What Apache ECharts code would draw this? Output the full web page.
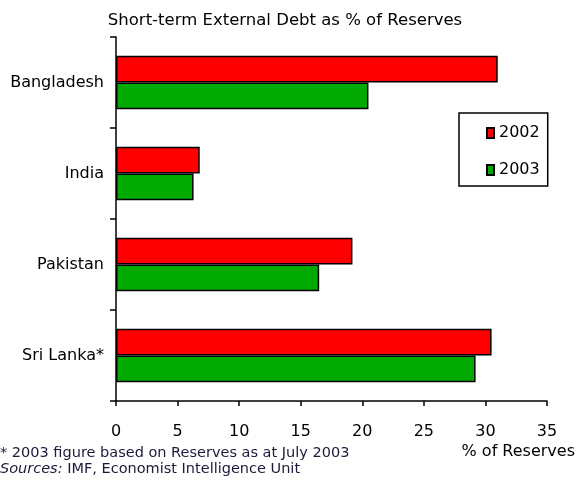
<!DOCTYPE html>
<html>
<head>
<meta charset="utf-8">
<script src="https://cdn.jsdelivr.net/npm/echarts@6/dist/echarts.min.js"></script>
<style>
  html, body { margin: 0; padding: 0; background: #fff; }
  #chart { width: 578px; height: 484px; }
</style>
</head>
<body>
<div id="chart"></div>
<script>
// Short-term external debt relative to reserves, South Asia
var countries = ['Bangladesh', 'India', 'Pakistan', 'Sri Lanka*'];
var debt2002 = [31.0, 6.8, 19.2, 30.5];
var debt2003 = [20.5, 6.3, 16.5, 29.2];
var seriesNames = ['2002', '2003'];
var xTicks = [0, 35, 5];

var FONT = 'DejaVu Sans, Verdana, sans-serif';
var chart = echarts.init(document.getElementById('chart'), null, { renderer: 'canvas' });

var barStyle = function (color) {
  return { color: color, borderColor: '#000', borderWidth: 1.5 };
};

chart.setOption({
  animation: false,
  backgroundColor: '#fff',
  title: {
    text: 'Short-term External Debt as % of Reserves',
    left: 280,
    top: 7,
    textAlign: 'center',
    textStyle: { fontFamily: FONT, fontSize: 16.5, fontWeight: 'normal', color: '#000' }
  },
  grid: { left: 116, right: 30, top: 37, height: 364, containLabel: false },
  legend: {
    orient: 'vertical',
    left: 459,
    top: 113,
    width: 88,
    padding: [11, 8, 7, 27],
    itemGap: 19,
    itemWidth: 7,
    itemHeight: 10,
    icon: 'rect',
    borderColor: '#000',
    borderWidth: 1.5,
    textStyle: { fontFamily: FONT, fontSize: 16, color: '#000', lineHeight: 18 },
    data: seriesNames
  },
  xAxis: {
    type: 'value',
    min: xTicks[0],
    max: xTicks[1],
    interval: xTicks[2],
    splitLine: { show: false },
    axisLine: { show: true, lineStyle: { color: '#000', width: 1.5 } },
    axisTick: { show: true, length: 5, lineStyle: { color: '#000', width: 1.5 } },
    axisLabel: { fontFamily: FONT, fontSize: 16, color: '#000', margin: 23 },
    name: '% of Reserves',
    nameLocation: 'end',
    nameGap: 28,
    nameTextStyle: {
      fontFamily: FONT, fontSize: 16, color: '#000',
      align: 'right', verticalAlign: 'top', padding: [43, 0, 0, 0]
    }
  },
  yAxis: {
    type: 'category',
    inverse: true,
    data: countries,
    axisLine: { show: true, lineStyle: { color: '#000', width: 1.5 } },
    axisTick: { show: true, length: 6, lineStyle: { color: '#000', width: 1.5 } },
    axisLabel: { fontFamily: FONT, fontSize: 16, color: '#000', margin: 12 }
  },
  series: [
    {
      name: seriesNames[0],
      type: 'bar',
      data: debt2002,
      barCategoryGap: '41%',
      barGap: '0%',
      itemStyle: barStyle('#ff0000')
    },
    {
      name: seriesNames[1],
      type: 'bar',
      data: debt2003,
      barCategoryGap: '41%',
      barGap: '0%',
      itemStyle: barStyle('#00aa00')
    }
  ],
  graphic: [
    {
      type: 'text',
      left: 0,
      top: 446,
      style: {
        text: '* 2003 figure based on Reserves as at July 2003',
        font: '14.5px ' + FONT,
        fill: '#1a1a3a'
      }
    },
    {
      type: 'text',
      left: 0,
      top: 462,
      style: {
        text: '{i|Sources:} IMF, Economist Intelligence Unit',
        font: '14.5px ' + FONT,
        fill: '#1a1a3a',
        rich: {
          i: { fontStyle: 'italic', fontFamily: FONT, fontSize: 14.5, fill: '#1a1a3a' }
        }
      }
    }
  ]
});
</script>
</body>
</html>
